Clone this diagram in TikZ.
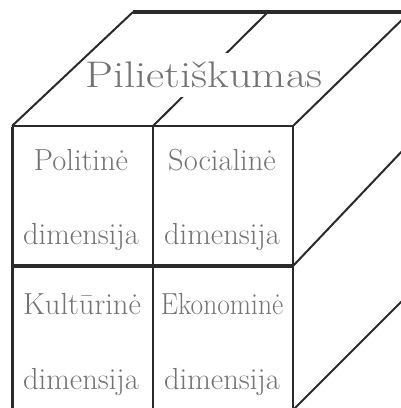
\documentclass[tikz,border=0pt]{standalone}
\usepackage{fontspec}
\usepackage{graphicx}
\definecolor{edge}{HTML}{2A2A2A}
\definecolor{txt}{HTML}{737373}
\tikzset{
  cubeline/.style={draw=edge, line width=#1, line cap=butt},
  celltext/.style={text=txt, anchor=base, inner sep=0pt, font=\fontsize{30.5}{36}\selectfont},
}
\begin{document}
\begin{tikzpicture}[x=1pt,y=-1pt]
\useasboundingbox (0,0) rectangle (401,408);
\clip (0,0) rectangle (401,408);
% corners
\coordinate (FL) at (12,126);
\coordinate (FM) at (153,126);
\coordinate (FR) at (293,126);
\coordinate (BL) at (133,12);
\coordinate (BM) at (268,12);
\coordinate (BR) at (410,12);
\coordinate (ML) at (12,266);
\coordinate (MR) at (293,266);
\coordinate (LL) at (12,410);
\coordinate (LM) at (153,410);
\coordinate (LR) at (293,410);
\coordinate (RM) at (405,148);
\coordinate (RL) at (405,298);
% middle top diagonal (under the title)
\draw[cubeline=2pt] (FM) -- (BM);
% title
\node[fill=white, inner xsep=0pt, minimum height=44pt, text=txt] (title) at (204,75)
  {\scalebox{1.2}[1]{\fontsize{37}{40}\selectfont Pilieti\v{s}kumas}};
% top face
\draw[cubeline=2pt] (FL) -- (BL);
\draw[cubeline=3.5pt] (BL) -- (BR);
\draw[cubeline=2pt] (FR) -- (BR);
% right face
\draw[cubeline=2pt] (MR) -- (RM);
\draw[cubeline=2pt] (LR) -- (RL);
% front face
\draw[cubeline=1.6pt] (FL) -- (FR);
\draw[cubeline=4pt] (ML) -- (MR);
\draw[cubeline=3pt] ([yshift=-1pt]FL) -- (LL);
\draw[cubeline=2.5pt] (FM) -- (LM);
\draw[cubeline=2pt] (FR) -- (LR);
% cell texts
\node[celltext] (t1a) at (81,170) {Politinė};
\node[celltext] (t1b) at (81,244) {dimensija};
\node[celltext] (t2a) at (222,170) {Socialinė};
\node[celltext] (t2b) at (222,244) {dimensija};
\node[celltext] (t3a) at (82,314) {Kultūrinė};
\node[celltext] (t3b) at (81,389) {dimensija};
\node[celltext] (t4a) at (222,314) {\scalebox{0.9}[1]{Ekonominė}};
\node[celltext] (t4b) at (222,389) {dimensija};
\end{tikzpicture}
\end{document}
